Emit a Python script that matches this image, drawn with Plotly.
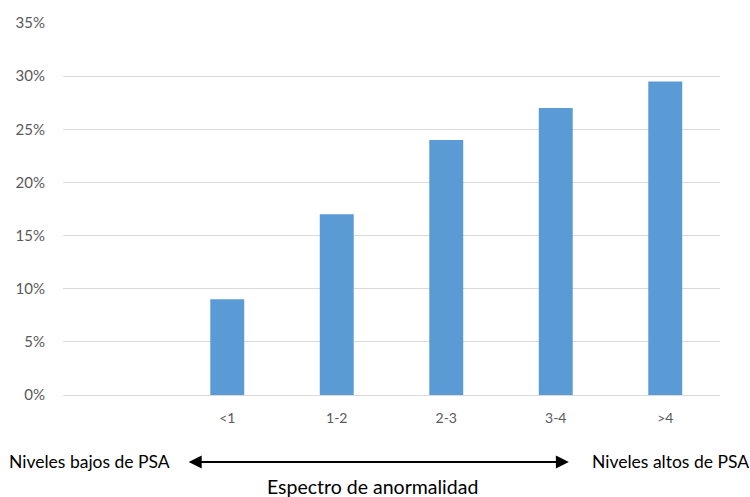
import plotly.graph_objects as go

# PSA ranges (ng/mL) and share of abnormal findings per range
categories = ["<1", "1-2", "2-3", "3-4", ">4"]
values = [0.09, 0.17, 0.24, 0.27, 0.295]
y_ticks = [0, 0.05, 0.10, 0.15, 0.20, 0.25, 0.30, 0.35]
y_labels = ["0%", "5%", "10%", "15%", "20%", "25%", "30%", "35%"]

FONT = "Lato, 'Open Sans', sans-serif"
GRAY = "#595959"

fig = go.Figure(
    go.Bar(
        x=categories,
        y=values,
        marker=dict(color="#5b9bd5", line=dict(width=0)),
        width=0.31,
        hoverinfo="skip",
    )
)

fig.update_layout(
    width=750,
    height=497,
    margin=dict(l=63, r=30, t=23, b=102),
    paper_bgcolor="white",
    plot_bgcolor="white",
    showlegend=False,
    font=dict(family=FONT, color=GRAY, size=14),
    xaxis=dict(
        type="category",
        range=[-1.5, 4.5],
        showgrid=False,
        showline=False,
        zeroline=False,
        ticks="",
        ticklabelstandoff=13,
        tickfont=dict(size=14, color=GRAY),
    ),
    yaxis=dict(
        range=[0, 0.35],
        tickvals=y_ticks,
        ticktext=y_labels,
        showgrid=True,
        gridcolor="#d9d9d9",
        gridwidth=1,
        zeroline=True,
        zerolinecolor="#d9d9d9",
        zerolinewidth=1,
        showline=False,
        ticks="",
        ticklabelstandoff=17,
        tickfont=dict(size=15, color=GRAY),
    ),
)

# Double-headed arrow spanning the PSA spectrum
fig.add_annotation(
    x=0.770, y=-0.180, xref="x domain", yref="y domain",
    ax=0.189, ay=-0.180, axref="x domain", ayref="y domain",
    text="", showarrow=True,
    arrowhead=2, startarrowhead=2, arrowside="end+start",
    arrowsize=1.3, startarrowsize=1.3, arrowwidth=2, arrowcolor="black",
)

fig.add_annotation(
    x=0.166, y=-0.180, xref="x domain", yref="y domain",
    text="Niveles bajos de PSA", showarrow=False,
    xanchor="right", yanchor="middle",
    font=dict(family=FONT, size=17.5, color="black"),
)
fig.add_annotation(
    x=0.802, y=-0.180, xref="x domain", yref="y domain",
    text="Niveles altos de PSA", showarrow=False,
    xanchor="left", yanchor="middle",
    font=dict(family=FONT, size=17.5, color="black"),
)
fig.add_annotation(
    x=0.471, y=-0.245, xref="x domain", yref="y domain",
    text="Espectro de anormalidad", showarrow=False,
    xanchor="center", yanchor="middle",
    font=dict(family=FONT, size=19.5, color="black"),
)

fig.write_html("out.html")
